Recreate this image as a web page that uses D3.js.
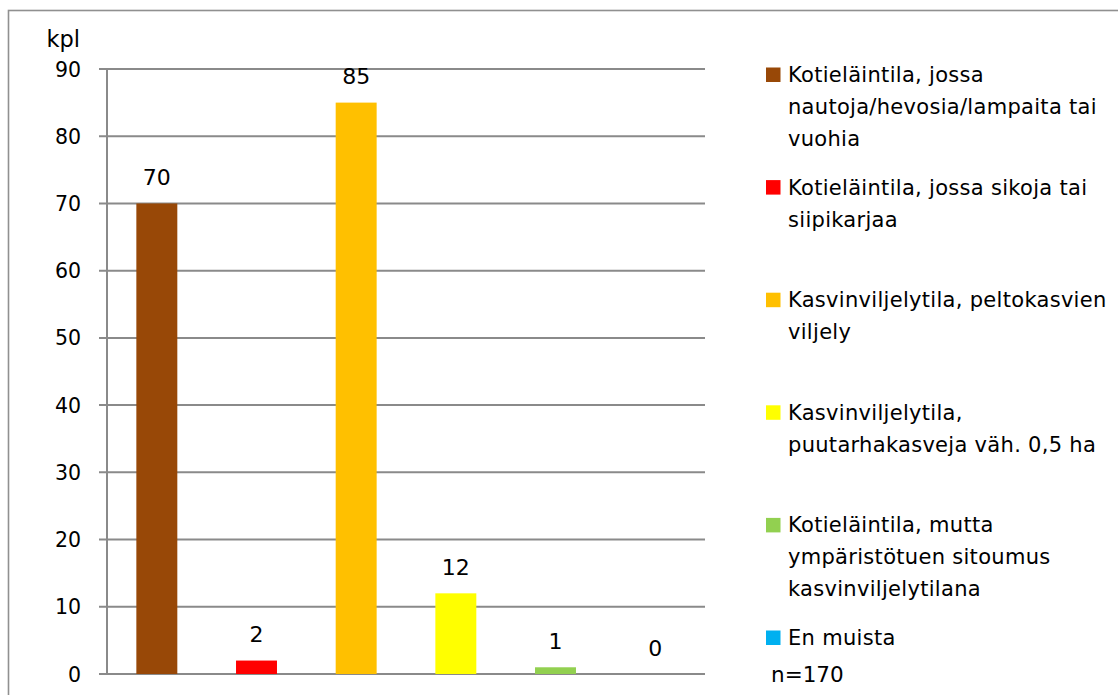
<!DOCTYPE html>
<html>
<head>
<meta charset="utf-8">
<script src="https://cdn.jsdelivr.net/npm/d3@7"></script>
<style>
  html, body { margin: 0; padding: 0; background: #fff; }
  svg { display: block; }
  text { font-family: "DejaVu Sans", sans-serif; fill: #000; }
</style>
</head>
<body>
<svg id="chart" width="1118" height="695"></svg>
<script>
// ---- data ----
const categoryLines = [
  ["Kotieläintila, jossa", "nautoja/hevosia/lampaita tai", "vuohia"],
  ["Kotieläintila, jossa sikoja tai", "siipikarjaa"],
  ["Kasvinviljelytila, peltokasvien", "viljely"],
  ["Kasvinviljelytila,", "puutarhakasveja väh. 0,5 ha"],
  ["Kotieläintila, mutta", "ympäristötuen sitoumus", "kasvinviljelytilana"],
  ["En muista"]
];
const categories = categoryLines.map(l => l.join(" "));
const values = [70, 2, 85, 12, 1, 0];
const colors = ["#984807", "#FF0000", "#FFC000", "#FFFF00", "#92D050", "#00B0F0"];
const yTicks = [0, 10, 20, 30, 40, 50, 60, 70, 80, 90];
const yUnit = "kpl";
const note = "n=170";

// ---- layout ----
const svg = d3.select("#chart");
const plot = { left: 107, right: 705, top: 69, bottom: 674 };
const gridColor = "#8a8a8a";

// outer border (extends past the frame on right/bottom)
svg.append("rect")
  .attr("x", 8.5).attr("y", 10.5)
  .attr("width", 1300).attr("height", 900)
  .attr("fill", "none").attr("stroke", "#909090").attr("stroke-width", 1.6);

const y = d3.scaleLinear().domain([0, 90]).range([plot.bottom, plot.top]);
const x = d3.scaleBand().domain(categories).range([plot.left, plot.right])
  .paddingInner(0.589).paddingOuter(0.2945);

// gridlines + ticks
const g = svg.append("g");
g.selectAll("line.grid").data(yTicks).join("line")
  .attr("class", "grid")
  .attr("x1", plot.left - 8).attr("x2", plot.right)
  .attr("y1", d => y(d)).attr("y2", d => y(d))
  .attr("stroke", gridColor).attr("stroke-width", 2);

// vertical axis line
g.append("line")
  .attr("x1", plot.left).attr("x2", plot.left)
  .attr("y1", plot.top).attr("y2", plot.bottom)
  .attr("stroke", gridColor).attr("stroke-width", 2);

// tick labels
g.selectAll("text.tick").data(yTicks).join("text")
  .attr("class", "tick")
  .attr("x", 81).attr("y", d => y(d) + 7.5)
  .attr("text-anchor", "end")
  .attr("font-size", 20.5)
  .text(d => d);

svg.append("text")
  .attr("x", 80).attr("y", 46.5)
  .attr("text-anchor", "end").attr("font-size", 22.5)
  .text(yUnit);

// bars
svg.selectAll("rect.bar").data(values).join("rect")
  .attr("class", "bar")
  .attr("x", (d, i) => x(categories[i]))
  .attr("width", x.bandwidth())
  .attr("y", d => y(d))
  .attr("height", d => y(0) - y(d))
  .attr("fill", (d, i) => colors[i]);

// redraw baseline over bars
g.append("line")
  .attr("x1", plot.left - 8).attr("x2", plot.right)
  .attr("y1", y(0)).attr("y2", y(0))
  .attr("stroke", gridColor).attr("stroke-width", 2);

// value labels
svg.selectAll("text.val").data(values).join("text")
  .attr("class", "val")
  .attr("x", (d, i) => x(categories[i]) + x.bandwidth() / 2)
  .attr("y", d => y(d) - 18.5)
  .attr("text-anchor", "middle")
  .attr("font-size", 22)
  .text(d => d);

// legend
const legTop = 82, legStep = 112.6, lineH = 32;
const leg = svg.append("g");
categoryLines.forEach((lines, i) => {
  const base = legTop + i * legStep;
  leg.append("rect")
    .attr("x", 766).attr("y", base - 14.5)
    .attr("width", 14.5).attr("height", 14.5)
    .attr("fill", colors[i]);
  const t = leg.append("text").attr("font-size", 21).attr("letter-spacing", 0.3);
  lines.forEach((ln, j) => {
    t.append("tspan").attr("x", 788).attr("y", base + j * lineH).text(ln);
  });
});

svg.append("text")
  .attr("x", 771).attr("y", 681.5)
  .attr("font-size", 21.5)
  .text(note);
</script>
</body>
</html>
